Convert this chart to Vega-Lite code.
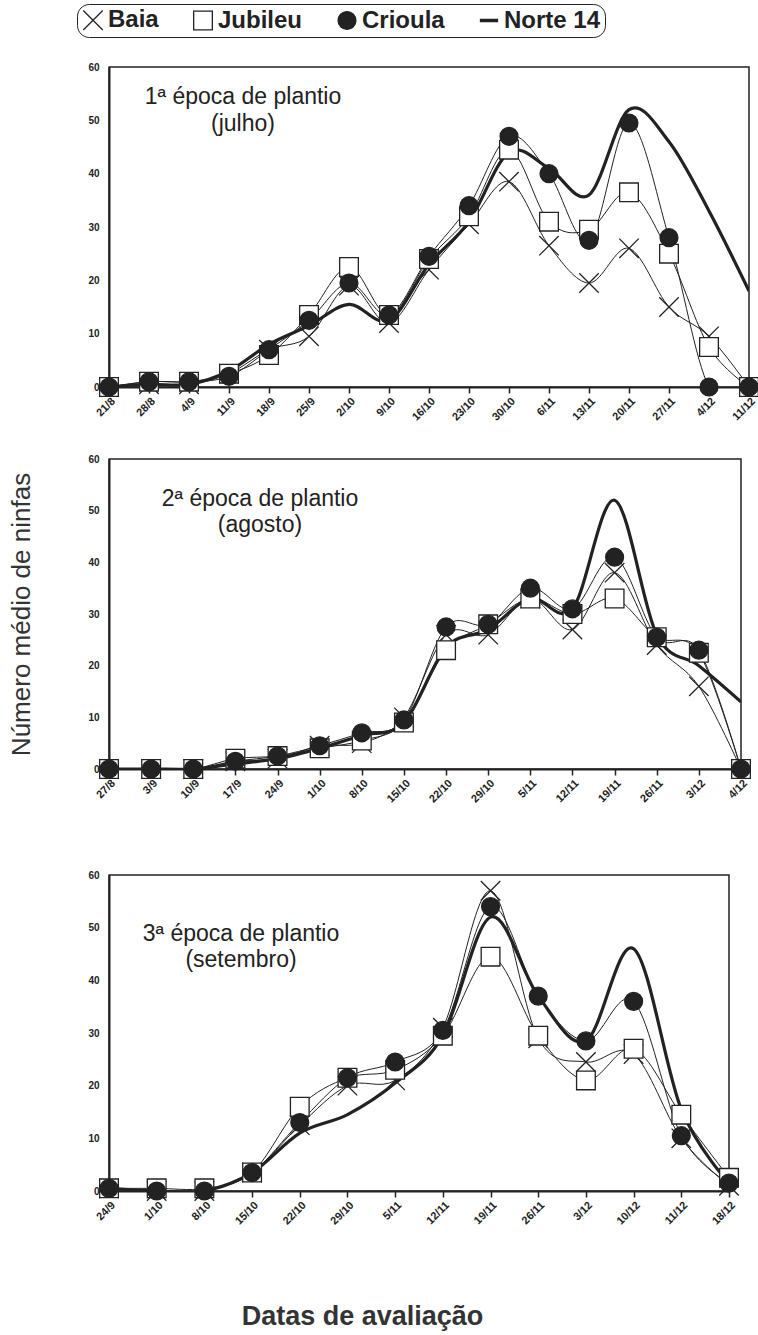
{
  "$schema": "https://vega.github.io/schema/vega-lite/v6.json",
  "padding": {"left": 8, "top": 3, "right": 4, "bottom": 3},
  "background": "white",
  "config": {
    "font": "Liberation Sans",
    "view": {"stroke": "#222", "strokeWidth": 1.5},
    "axis": {"domainColor": "#222", "domainWidth": 2, "tickColor": "#222", "labelFont": "Liberation Sans", "labelFontWeight": "bold", "labelColor": "#222", "titleFont": "Liberation Sans", "titleColor": "#333", "grid": false, "zindex": 1},
    "axisX": {"labelAngle": -45, "labelFontSize": 11, "tickSize": 6, "tickWidth": 1.5, "labelPadding": 2},
    "axisY": {"labelFontSize": 10, "ticks": false, "labelPadding": 10},
    "legend": {"labelFont": "Liberation Sans", "labelFontSize": 24, "labelFontWeight": "bold", "labelColor": "#222", "strokeColor": "#222", "cornerRadius": 12, "padding": 4, "columnPadding": 32, "labelOffset": 3, "symbolStrokeWidth": 1.3, "labelLimit": 800}
  },
  "data": {"values": [
    {"p":1,"d":"21/8","s":"Baia","v":0},{"p":1,"d":"28/8","s":"Baia","v":0.5},{"p":1,"d":"4/9","s":"Baia","v":0.5},{"p":1,"d":"11/9","s":"Baia","v":2.5},{"p":1,"d":"18/9","s":"Baia","v":7},{"p":1,"d":"25/9","s":"Baia","v":9.5},{"p":1,"d":"2/10","s":"Baia","v":19},{"p":1,"d":"9/10","s":"Baia","v":12},{"p":1,"d":"16/10","s":"Baia","v":22},{"p":1,"d":"23/10","s":"Baia","v":30.5},{"p":1,"d":"30/10","s":"Baia","v":38.5},{"p":1,"d":"6/11","s":"Baia","v":26.5},{"p":1,"d":"13/11","s":"Baia","v":19.5},{"p":1,"d":"20/11","s":"Baia","v":26},{"p":1,"d":"27/11","s":"Baia","v":15},{"p":1,"d":"4/12","s":"Baia","v":9.5},{"p":1,"d":"11/12","s":"Baia","v":0},
    {"p":1,"d":"21/8","s":"Jubileu","v":0},{"p":1,"d":"28/8","s":"Jubileu","v":1},{"p":1,"d":"4/9","s":"Jubileu","v":1},{"p":1,"d":"11/9","s":"Jubileu","v":2.5},{"p":1,"d":"18/9","s":"Jubileu","v":6},{"p":1,"d":"25/9","s":"Jubileu","v":13.5},{"p":1,"d":"2/10","s":"Jubileu","v":22.5},{"p":1,"d":"9/10","s":"Jubileu","v":13.5},{"p":1,"d":"16/10","s":"Jubileu","v":24},{"p":1,"d":"23/10","s":"Jubileu","v":32},{"p":1,"d":"30/10","s":"Jubileu","v":44.5},{"p":1,"d":"6/11","s":"Jubileu","v":31},{"p":1,"d":"13/11","s":"Jubileu","v":29.5},{"p":1,"d":"20/11","s":"Jubileu","v":36.5},{"p":1,"d":"27/11","s":"Jubileu","v":25},{"p":1,"d":"4/12","s":"Jubileu","v":7.5},{"p":1,"d":"11/12","s":"Jubileu","v":0},
    {"p":1,"d":"21/8","s":"Crioula","v":0},{"p":1,"d":"28/8","s":"Crioula","v":1},{"p":1,"d":"4/9","s":"Crioula","v":1},{"p":1,"d":"11/9","s":"Crioula","v":2},{"p":1,"d":"18/9","s":"Crioula","v":7},{"p":1,"d":"25/9","s":"Crioula","v":12.5},{"p":1,"d":"2/10","s":"Crioula","v":19.5},{"p":1,"d":"9/10","s":"Crioula","v":13.5},{"p":1,"d":"16/10","s":"Crioula","v":24.5},{"p":1,"d":"23/10","s":"Crioula","v":34},{"p":1,"d":"30/10","s":"Crioula","v":47},{"p":1,"d":"6/11","s":"Crioula","v":40},{"p":1,"d":"13/11","s":"Crioula","v":27.5},{"p":1,"d":"20/11","s":"Crioula","v":49.5},{"p":1,"d":"27/11","s":"Crioula","v":28},{"p":1,"d":"4/12","s":"Crioula","v":0},{"p":1,"d":"11/12","s":"Crioula","v":0},
    {"p":1,"d":"21/8","s":"Norte 14","v":0},{"p":1,"d":"28/8","s":"Norte 14","v":0.5},{"p":1,"d":"4/9","s":"Norte 14","v":0.5},{"p":1,"d":"11/9","s":"Norte 14","v":3},{"p":1,"d":"18/9","s":"Norte 14","v":8},{"p":1,"d":"25/9","s":"Norte 14","v":11.5},{"p":1,"d":"2/10","s":"Norte 14","v":15.5},{"p":1,"d":"9/10","s":"Norte 14","v":12.5},{"p":1,"d":"16/10","s":"Norte 14","v":23},{"p":1,"d":"23/10","s":"Norte 14","v":31},{"p":1,"d":"30/10","s":"Norte 14","v":44},{"p":1,"d":"6/11","s":"Norte 14","v":41},{"p":1,"d":"13/11","s":"Norte 14","v":36},{"p":1,"d":"20/11","s":"Norte 14","v":52},{"p":1,"d":"27/11","s":"Norte 14","v":46},{"p":1,"d":"4/12","s":"Norte 14","v":33},{"p":1,"d":"11/12","s":"Norte 14","v":18},

    {"p":2,"d":"27/8","s":"Baia","v":0},{"p":2,"d":"3/9","s":"Baia","v":0},{"p":2,"d":"10/9","s":"Baia","v":0},{"p":2,"d":"17/9","s":"Baia","v":1.5},{"p":2,"d":"24/9","s":"Baia","v":2},{"p":2,"d":"1/10","s":"Baia","v":4.5},{"p":2,"d":"8/10","s":"Baia","v":5},{"p":2,"d":"15/10","s":"Baia","v":10},{"p":2,"d":"22/10","s":"Baia","v":26},{"p":2,"d":"29/10","s":"Baia","v":26},{"p":2,"d":"5/11","s":"Baia","v":33},{"p":2,"d":"12/11","s":"Baia","v":27},{"p":2,"d":"19/11","s":"Baia","v":38},{"p":2,"d":"26/11","s":"Baia","v":24},{"p":2,"d":"3/12","s":"Baia","v":16},{"p":2,"d":"4/12","s":"Baia","v":0},
    {"p":2,"d":"27/8","s":"Jubileu","v":0},{"p":2,"d":"3/9","s":"Jubileu","v":0},{"p":2,"d":"10/9","s":"Jubileu","v":0},{"p":2,"d":"17/9","s":"Jubileu","v":2},{"p":2,"d":"24/9","s":"Jubileu","v":2.5},{"p":2,"d":"1/10","s":"Jubileu","v":4},{"p":2,"d":"8/10","s":"Jubileu","v":5.5},{"p":2,"d":"15/10","s":"Jubileu","v":9},{"p":2,"d":"22/10","s":"Jubileu","v":23},{"p":2,"d":"29/10","s":"Jubileu","v":28},{"p":2,"d":"5/11","s":"Jubileu","v":33},{"p":2,"d":"12/11","s":"Jubileu","v":30},{"p":2,"d":"19/11","s":"Jubileu","v":33},{"p":2,"d":"26/11","s":"Jubileu","v":25.5},{"p":2,"d":"3/12","s":"Jubileu","v":22.5},{"p":2,"d":"4/12","s":"Jubileu","v":0},
    {"p":2,"d":"27/8","s":"Crioula","v":0},{"p":2,"d":"3/9","s":"Crioula","v":0},{"p":2,"d":"10/9","s":"Crioula","v":0},{"p":2,"d":"17/9","s":"Crioula","v":1.5},{"p":2,"d":"24/9","s":"Crioula","v":2.5},{"p":2,"d":"1/10","s":"Crioula","v":4.5},{"p":2,"d":"8/10","s":"Crioula","v":7},{"p":2,"d":"15/10","s":"Crioula","v":9.5},{"p":2,"d":"22/10","s":"Crioula","v":27.5},{"p":2,"d":"29/10","s":"Crioula","v":28},{"p":2,"d":"5/11","s":"Crioula","v":35},{"p":2,"d":"12/11","s":"Crioula","v":31},{"p":2,"d":"19/11","s":"Crioula","v":41},{"p":2,"d":"26/11","s":"Crioula","v":25.5},{"p":2,"d":"3/12","s":"Crioula","v":23},{"p":2,"d":"4/12","s":"Crioula","v":0},
    {"p":2,"d":"27/8","s":"Norte 14","v":0},{"p":2,"d":"3/9","s":"Norte 14","v":0},{"p":2,"d":"10/9","s":"Norte 14","v":0},{"p":2,"d":"17/9","s":"Norte 14","v":1},{"p":2,"d":"24/9","s":"Norte 14","v":2},{"p":2,"d":"1/10","s":"Norte 14","v":4},{"p":2,"d":"8/10","s":"Norte 14","v":6.5},{"p":2,"d":"15/10","s":"Norte 14","v":9},{"p":2,"d":"22/10","s":"Norte 14","v":23.5},{"p":2,"d":"29/10","s":"Norte 14","v":27},{"p":2,"d":"5/11","s":"Norte 14","v":33},{"p":2,"d":"12/11","s":"Norte 14","v":31},{"p":2,"d":"19/11","s":"Norte 14","v":52},{"p":2,"d":"26/11","s":"Norte 14","v":26},{"p":2,"d":"3/12","s":"Norte 14","v":20},{"p":2,"d":"4/12","s":"Norte 14","v":13},

    {"p":3,"d":"24/9","s":"Baia","v":0.5},{"p":3,"d":"1/10","s":"Baia","v":0},{"p":3,"d":"8/10","s":"Baia","v":0},{"p":3,"d":"15/10","s":"Baia","v":3.5},{"p":3,"d":"22/10","s":"Baia","v":12.5},{"p":3,"d":"29/10","s":"Baia","v":20},{"p":3,"d":"5/11","s":"Baia","v":21},{"p":3,"d":"12/11","s":"Baia","v":31},{"p":3,"d":"19/11","s":"Baia","v":57},{"p":3,"d":"26/11","s":"Baia","v":29},{"p":3,"d":"3/12","s":"Baia","v":24.5},{"p":3,"d":"10/12","s":"Baia","v":26},{"p":3,"d":"11/12","s":"Baia","v":10},{"p":3,"d":"18/12","s":"Baia","v":1},
    {"p":3,"d":"24/9","s":"Jubileu","v":0.5},{"p":3,"d":"1/10","s":"Jubileu","v":0.5},{"p":3,"d":"8/10","s":"Jubileu","v":0.5},{"p":3,"d":"15/10","s":"Jubileu","v":3.5},{"p":3,"d":"22/10","s":"Jubileu","v":16},{"p":3,"d":"29/10","s":"Jubileu","v":21.5},{"p":3,"d":"5/11","s":"Jubileu","v":23},{"p":3,"d":"12/11","s":"Jubileu","v":29.5},{"p":3,"d":"19/11","s":"Jubileu","v":44.5},{"p":3,"d":"26/11","s":"Jubileu","v":29.5},{"p":3,"d":"3/12","s":"Jubileu","v":21},{"p":3,"d":"10/12","s":"Jubileu","v":27},{"p":3,"d":"11/12","s":"Jubileu","v":14.5},{"p":3,"d":"18/12","s":"Jubileu","v":2.5},
    {"p":3,"d":"24/9","s":"Crioula","v":0.5},{"p":3,"d":"1/10","s":"Crioula","v":0},{"p":3,"d":"8/10","s":"Crioula","v":0},{"p":3,"d":"15/10","s":"Crioula","v":3.5},{"p":3,"d":"22/10","s":"Crioula","v":13},{"p":3,"d":"29/10","s":"Crioula","v":21.5},{"p":3,"d":"5/11","s":"Crioula","v":24.5},{"p":3,"d":"12/11","s":"Crioula","v":30.5},{"p":3,"d":"19/11","s":"Crioula","v":54},{"p":3,"d":"26/11","s":"Crioula","v":37},{"p":3,"d":"3/12","s":"Crioula","v":28.5},{"p":3,"d":"10/12","s":"Crioula","v":36},{"p":3,"d":"11/12","s":"Crioula","v":10.5},{"p":3,"d":"18/12","s":"Crioula","v":1.5},
    {"p":3,"d":"24/9","s":"Norte 14","v":0.5},{"p":3,"d":"1/10","s":"Norte 14","v":0},{"p":3,"d":"8/10","s":"Norte 14","v":0},{"p":3,"d":"15/10","s":"Norte 14","v":3.5},{"p":3,"d":"22/10","s":"Norte 14","v":11},{"p":3,"d":"29/10","s":"Norte 14","v":14.5},{"p":3,"d":"5/11","s":"Norte 14","v":20.5},{"p":3,"d":"12/11","s":"Norte 14","v":29.5},{"p":3,"d":"19/11","s":"Norte 14","v":52},{"p":3,"d":"26/11","s":"Norte 14","v":37},{"p":3,"d":"3/12","s":"Norte 14","v":28.5},{"p":3,"d":"10/12","s":"Norte 14","v":46},{"p":3,"d":"11/12","s":"Norte 14","v":15.5},{"p":3,"d":"18/12","s":"Norte 14","v":1.5}
  ]},
  "resolve": {"scale": {"x": "independent"}},
  "spacing": 30,
  "vconcat": [
    {
      "width": 640, "height": 320,
      "title": {"text": ["1ª época de plantio", "(julho)"], "frame": "group", "anchor": "start", "align": "center", "baseline": "top", "dx": 134, "dy": 74, "offset": 0, "font": "Liberation Sans", "fontSize": 23, "fontWeight": "normal", "lineHeight": 27, "color": "#222"},
      "transform": [{"filter": "datum.p == 1"}],
      "layer": [
        {"transform": [{"filter": "datum.s != 'Norte 14'"}], "mark": {"type": "line", "interpolate": "cardinal", "stroke": "#222", "strokeWidth": 1, "clip": true},
         "encoding": {"x": {"field": "d", "type": "ordinal", "sort": null, "scale": {"type": "point", "padding": 0}, "axis": {"title": null}}, "y": {"field": "v", "type": "quantitative", "scale": {"domain": [0, 60], "nice": false}, "axis": {"values": [0, 10, 20, 30, 40, 50, 60], "title": null}}, "detail": {"field": "s"}}},
        {"transform": [{"filter": "datum.s == 'Norte 14'"}], "mark": {"type": "line", "interpolate": "cardinal", "stroke": "#222", "strokeWidth": 3.2, "clip": true},
         "encoding": {"x": {"field": "d", "type": "ordinal", "sort": null}, "y": {"field": "v", "type": "quantitative"}}},
        {"transform": [{"filter": "datum.s != 'Norte 14'"}], "mark": {"type": "point", "filled": true, "strokeWidth": 1.3, "opacity": 1},
         "encoding": {"x": {"field": "d", "type": "ordinal", "sort": null}, "y": {"field": "v", "type": "quantitative"},
           "shape": {"field": "s", "type": "nominal", "scale": {"domain": ["Baia", "Jubileu", "Crioula", "Norte 14"], "range": ["M-1,-1L1,1M1,-1L-1,1", "square", "circle", "M-1,-0.13H1V0.13H-1Z"]}, "legend": {"title": null, "orient": "none", "legendX": -32, "legendY": -63, "direction": "horizontal"}},
           "fill": {"field": "s", "type": "nominal", "scale": {"domain": ["Baia", "Jubileu", "Crioula", "Norte 14"], "range": ["transparent", "white", "#222", "#222"]}, "legend": {"title": null, "orient": "none", "legendX": -32, "legendY": -63, "direction": "horizontal"}},
           "stroke": {"field": "s", "type": "nominal", "scale": {"domain": ["Baia", "Jubileu", "Crioula", "Norte 14"], "range": ["#222", "#222", "#222", "#222"]}, "legend": {"title": null, "orient": "none", "legendX": -32, "legendY": -63, "direction": "horizontal"}},
           "size": {"field": "s", "type": "nominal", "scale": {"domain": ["Baia", "Jubileu", "Crioula", "Norte 14"], "range": [380, 289, 196, 600]}, "legend": {"title": null, "orient": "none", "legendX": -32, "legendY": -63, "direction": "horizontal"}}}}
      ]
    },
    {
      "width": 632, "height": 310,
      "title": {"text": ["2ª época de plantio", "(agosto)"], "frame": "group", "anchor": "start", "align": "center", "baseline": "top", "dx": 151, "dy": 83, "offset": 0, "font": "Liberation Sans", "fontSize": 23, "fontWeight": "normal", "lineHeight": 26, "color": "#222"},
      "transform": [{"filter": "datum.p == 2"}],
      "layer": [
        {"transform": [{"filter": "datum.s != 'Norte 14'"}], "mark": {"type": "line", "interpolate": "cardinal", "stroke": "#222", "strokeWidth": 1, "clip": true},
         "encoding": {"x": {"field": "d", "type": "ordinal", "sort": null, "scale": {"type": "point", "padding": 0}, "axis": {"title": null, "minExtent": 69}}, "y": {"field": "v", "type": "quantitative", "scale": {"domain": [0, 60], "nice": false}, "axis": {"values": [0, 10, 20, 30, 40, 50, 60], "title": "Número médio de ninfas", "titleFontSize": 26, "titleFontWeight": "normal", "titlePadding": 53}}, "detail": {"field": "s"}}},
        {"transform": [{"filter": "datum.s == 'Norte 14'"}], "mark": {"type": "line", "interpolate": "cardinal", "stroke": "#222", "strokeWidth": 3.2, "clip": true},
         "encoding": {"x": {"field": "d", "type": "ordinal", "sort": null}, "y": {"field": "v", "type": "quantitative"}}},
        {"transform": [{"filter": "datum.s != 'Norte 14'"}], "mark": {"type": "point", "filled": true, "strokeWidth": 1.3, "opacity": 1},
         "encoding": {"x": {"field": "d", "type": "ordinal", "sort": null}, "y": {"field": "v", "type": "quantitative"},
           "shape": {"field": "s", "type": "nominal"}, "fill": {"field": "s", "type": "nominal"}, "stroke": {"field": "s", "type": "nominal"}, "size": {"field": "s", "type": "nominal"}}}
      ]
    },
    {
      "width": 620, "height": 316,
      "title": {"text": ["3ª época de plantio", "(setembro)"], "frame": "group", "anchor": "start", "align": "center", "baseline": "top", "dx": 132, "dy": 102, "offset": 0, "font": "Liberation Sans", "fontSize": 23, "fontWeight": "normal", "lineHeight": 26, "color": "#222"},
      "transform": [{"filter": "datum.p == 3"}],
      "layer": [
        {"transform": [{"filter": "datum.s != 'Norte 14'"}], "mark": {"type": "line", "interpolate": "cardinal", "stroke": "#222", "strokeWidth": 1, "clip": true},
         "encoding": {"x": {"field": "d", "type": "ordinal", "sort": null, "scale": {"type": "point", "padding": 0}, "axis": {"title": "Datas de avaliação", "titleFontSize": 27, "titleFontWeight": "bold", "titleX": 253, "titleY": 133, "titleAlign": "center", "titleBaseline": "alphabetic"}}, "y": {"field": "v", "type": "quantitative", "scale": {"domain": [0, 60], "nice": false}, "axis": {"values": [0, 10, 20, 30, 40, 50, 60], "title": null}}, "detail": {"field": "s"}}},
        {"transform": [{"filter": "datum.s == 'Norte 14'"}], "mark": {"type": "line", "interpolate": "cardinal", "stroke": "#222", "strokeWidth": 3.2, "clip": true},
         "encoding": {"x": {"field": "d", "type": "ordinal", "sort": null}, "y": {"field": "v", "type": "quantitative"}}},
        {"transform": [{"filter": "datum.s != 'Norte 14'"}], "mark": {"type": "point", "filled": true, "strokeWidth": 1.3, "opacity": 1},
         "encoding": {"x": {"field": "d", "type": "ordinal", "sort": null}, "y": {"field": "v", "type": "quantitative"},
           "shape": {"field": "s", "type": "nominal"}, "fill": {"field": "s", "type": "nominal"}, "stroke": {"field": "s", "type": "nominal"}, "size": {"field": "s", "type": "nominal"}}}
      ]
    }
  ]
}
